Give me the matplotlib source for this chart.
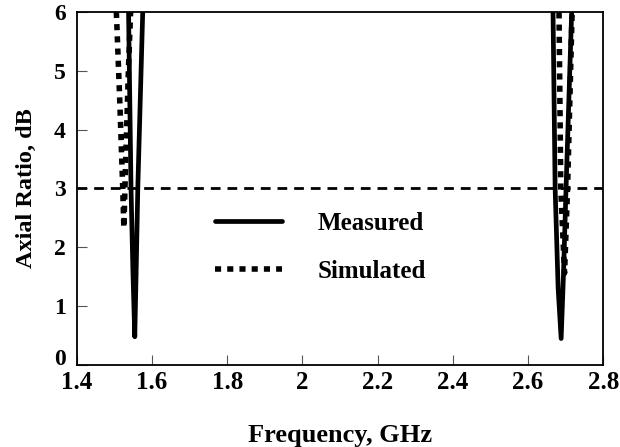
import numpy as np
import matplotlib.pyplot as plt

# measured axial ratio (two bands)
meas1_f = [1.537, 1.544, 1.549, 1.554, 1.558, 1.562, 1.576]
meas1_ar = [6.2, 3.0, 1.6, 0.48, 1.7, 3.0, 6.2]
meas2_f = [2.666, 2.672, 2.680, 2.688, 2.694, 2.701, 2.717]
meas2_ar = [6.2, 3.0, 1.3, 0.45, 1.5, 3.0, 6.2]
# simulated axial ratio
sim1_f = [1.505, 1.514, 1.522, 1.525, 1.530, 1.537, 1.544]
sim1_ar = [6.0, 4.5, 3.0, 2.33, 3.5, 5.0, 6.2]
sim2_f = [2.682, 2.687, 2.697, 2.705, 2.718]
sim2_ar = [6.2, 3.0, 1.56, 3.0, 6.2]

xticks = [1.4, 1.6, 1.8, 2, 2.2, 2.4, 2.6, 2.8]
xticklabels = ["1.4", "1.6", "1.8", "2", "2.2", "2.4", "2.6", "2.8"]
yticks = [0, 1, 2, 3, 4, 5, 6]

plt.rcParams['font.family'] = ['Liberation Serif', 'DejaVu Serif']
plt.rcParams['font.weight'] = 'bold'

fig = plt.figure(figsize=(6.2, 4.47), dpi=100)
ax = fig.add_axes([0.124, 0.1834, 0.849, 0.79])

ax.plot(meas1_f, meas1_ar, color="black", lw=3.4, solid_capstyle="round",
        solid_joinstyle="round", label="Measured")
ax.plot(meas2_f, meas2_ar, color="black", lw=3.4, solid_capstyle="round",
        solid_joinstyle="round")
ax.plot(sim1_f, sim1_ar, color="black", lw=4, linestyle=(0, (1.1, 1.1)),
        label="Simulated")
ax.plot(sim2_f, sim2_ar, color="black", lw=4, linestyle=(0, (1.1, 1.1)))
ax.axhline(3, color="black", lw=2, linestyle=(0, (3.5, 2.5)))

ax.set_xlim(1.4, 2.8)
ax.set_ylim(0, 6)
ax.set_xticks(xticks)
ax.set_xticklabels(xticklabels)
ax.set_yticks(yticks)
ax.tick_params(direction="in", length=7, width=0.8, labelsize=17,
               color="#555555")
ax.tick_params(axis="x", pad=4, labelsize=18)
ax.tick_params(axis="y", pad=8)
ax.get_yticklabels()[0].set_va("baseline")
for s in ax.spines.values():
    s.set_linewidth(1.3)
ax.set_xlabel("Frequency, GHz", fontsize=19, fontweight="bold", labelpad=22)
ax.set_ylabel("Axial Ratio, dB", fontsize=17.5, fontweight="bold", labelpad=12)

ax.legend(loc="center left", bbox_to_anchor=(0.262, 0.333), frameon=False,
          fontsize=18, handlelength=2.7, handletextpad=1.4, labelspacing=1.0,
          borderpad=0, borderaxespad=0)

plt.savefig("out.png", dpi=100)
